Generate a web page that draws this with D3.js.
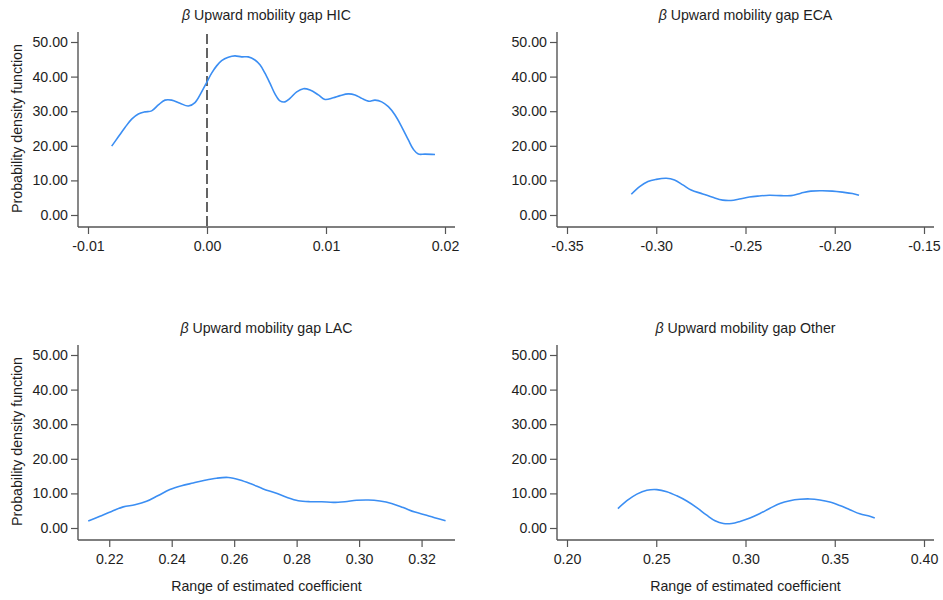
<!DOCTYPE html>
<html>
<head>
<meta charset="utf-8">
<script src="https://cdn.jsdelivr.net/npm/d3@7/dist/d3.min.js"></script>
<style>
  html, body { margin: 0; padding: 0; background: #fff; }
  text { font-family: Arial, "Liberation Sans", sans-serif; }
</style>
</head>
<body>
<svg id="chart" width="943" height="600"></svg>
<script>
// ---------------- data ----------------
const panelTitles = ["Upward mobility gap HIC", "Upward mobility gap ECA", "Upward mobility gap LAC", "Upward mobility gap Other"];
const yTicks = [0, 10, 20, 30, 40, 50];
const hicTicks = [-0.01, 0.00, 0.01, 0.02];
const ecaTicks = [-0.35, -0.30, -0.25, -0.20, -0.15];
const lacTicks = [0.22, 0.24, 0.26, 0.28, 0.30, 0.32];
const otherTicks = [0.20, 0.25, 0.30, 0.35, 0.40];

const hicX = [-0.00801, -0.00745, -0.00689, -0.00633, -0.00577, -0.00521, -0.00465, -0.00409, -0.00353, -0.00297, -0.00227, -0.00157, -0.00101, -0.00045, 0.00000, 0.00039, 0.00081, 0.00123, 0.00179, 0.00235, 0.00291, 0.00347, 0.00403, 0.00445, 0.00487, 0.00529, 0.00571, 0.00613, 0.00655, 0.00697, 0.00754, 0.00810, 0.00866, 0.00936, 0.00992, 0.01061, 0.01118, 0.01187, 0.01244, 0.01300, 0.01356, 0.01412, 0.01468, 0.01524, 0.01580, 0.01636, 0.01692, 0.01734, 0.01776, 0.01832, 0.01916];
const hicY = [19.9, 22.6, 25.3, 27.7, 29.2, 29.8, 30.1, 31.8, 33.2, 33.2, 32.3, 31.5, 32.5, 35.6, 38.5, 41.0, 43.1, 44.6, 45.6, 46.0, 45.7, 45.7, 44.8, 43.4, 41.0, 38.1, 35.0, 33.0, 32.7, 33.7, 35.6, 36.5, 36.1, 34.7, 33.4, 33.9, 34.5, 35.0, 34.7, 33.7, 32.9, 33.2, 32.7, 31.3, 28.9, 25.5, 21.7, 19.0, 17.6, 17.6, 17.5];

const ecaX = [-0.31397, -0.30931, -0.30466, -0.30000, -0.29441, -0.28976, -0.28510, -0.28045, -0.27393, -0.26834, -0.26276, -0.25810, -0.25345, -0.24786, -0.24227, -0.23669, -0.23017, -0.22458, -0.21899, -0.21341, -0.20689, -0.20130, -0.19572, -0.19013, -0.18641];
const ecaY = [6.0, 8.2, 9.7, 10.3, 10.6, 10.1, 8.7, 7.2, 6.1, 5.1, 4.3, 4.2, 4.6, 5.2, 5.5, 5.7, 5.6, 5.6, 6.3, 6.9, 7.0, 6.9, 6.6, 6.2, 5.7];

const lacX = [0.21328, 0.21701, 0.22075, 0.22448, 0.22822, 0.23195, 0.23569, 0.23942, 0.24316, 0.24689, 0.25063, 0.25437, 0.25810, 0.26184, 0.26557, 0.26931, 0.27304, 0.27678, 0.28051, 0.28425, 0.28798, 0.29172, 0.29545, 0.29919, 0.30293, 0.30666, 0.31040, 0.31413, 0.31787, 0.32160, 0.32480, 0.32768];
const lacY = [2.0, 3.4, 4.8, 6.1, 6.7, 7.7, 9.4, 11.1, 12.2, 13.0, 13.8, 14.4, 14.6, 13.9, 12.7, 11.3, 10.2, 8.9, 7.9, 7.6, 7.6, 7.4, 7.6, 8.0, 8.1, 7.8, 7.1, 5.9, 4.6, 3.7, 2.8, 2.1];

const otherX = [0.22852, 0.23355, 0.23914, 0.24473, 0.25033, 0.25592, 0.26151, 0.26710, 0.27269, 0.27828, 0.28294, 0.28760, 0.29226, 0.29692, 0.30252, 0.30811, 0.31370, 0.31929, 0.32488, 0.33048, 0.33607, 0.34166, 0.34725, 0.35284, 0.35843, 0.36402, 0.36961, 0.37241];
const otherY = [5.6, 7.9, 9.8, 10.9, 11.1, 10.5, 9.3, 7.8, 5.9, 3.7, 2.1, 1.3, 1.3, 1.9, 2.9, 4.2, 5.7, 7.1, 7.9, 8.3, 8.4, 8.1, 7.5, 6.5, 5.3, 4.1, 3.4, 2.9];

const xDomains = [[-0.01, 0.02], [-0.35, -0.15], [0.2132, 0.3275], [0.20, 0.40]];
const refLineX = 0;

// ---------------- layout ----------------
const svg = d3.select("#chart");
const locale = d3.formatLocale({decimal: ".", thousands: ",", grouping: [3], currency: ["", ""], minus: "-"});
const fmt = locale.format(".2f");

const base = {axL: 78, axR: 455, plotL: 88, plotR: 445, axT: 32, axB: 227, y0: 215, y50: 42};
const colOff = [0, 479];
const rowOff = [0, 313];
const lineColor = "#3b8ef3";
const axisColor = "#555";
const textColor = "#1e1e1e";
const fs = 14.2;

const panels = [
  {title: panelTitles[0], xs: hicX, ys: hicY, ticks: hicTicks, dom: xDomains[0], col: 0, row: 0, ref: true},
  {title: panelTitles[1], xs: ecaX, ys: ecaY, ticks: ecaTicks, dom: xDomains[1], col: 1, row: 0},
  {title: panelTitles[2], xs: lacX, ys: lacY, ticks: lacTicks, dom: xDomains[2], col: 0, row: 1},
  {title: panelTitles[3], xs: otherX, ys: otherY, ticks: otherTicks, dom: xDomains[3], col: 1, row: 1}
];

panels.forEach(p => {
  const dx = colOff[p.col], dy = rowOff[p.row];
  const g = svg.append("g").attr("transform", `translate(${dx},${dy})`);
  const x = d3.scaleLinear().domain(p.dom).range([base.plotL, base.plotR]);
  const y = d3.scaleLinear().domain([0, 50]).range([base.y0, base.y50]);

  // title
  const t = g.append("text")
    .attr("x", (base.axL + base.axR) / 2)
    .attr("y", 19.5)
    .attr("text-anchor", "middle")
    .attr("font-size", fs)
    .attr("fill", textColor);
  t.append("tspan").attr("font-style", "italic").text("β");
  t.append("tspan").text(" " + p.title);

  // y axis
  const ya = g.append("g").attr("transform", `translate(${base.axL},0)`)
    .call(d3.axisLeft(y).tickValues(yTicks).tickFormat(fmt).tickSize(7).tickPadding(3));
  ya.select(".domain").remove();
  ya.selectAll("line").attr("stroke", axisColor).attr("stroke-width", 1.2);
  ya.selectAll("text").attr("font-size", fs).attr("fill", textColor)
    .attr("font-family", "Arial, 'Liberation Sans', sans-serif");
  g.append("line").attr("x1", base.axL).attr("x2", base.axL).attr("y1", base.axT).attr("y2", base.axB)
    .attr("stroke", axisColor).attr("stroke-width", 1.4);

  // x axis
  const xa = g.append("g").attr("transform", `translate(0,${base.axB})`)
    .call(d3.axisBottom(x).tickValues(p.ticks).tickFormat(fmt).tickSize(7).tickPadding(7));
  xa.select(".domain").remove();
  xa.selectAll("line").attr("stroke", axisColor).attr("stroke-width", 1.2);
  xa.selectAll("text").attr("font-size", fs).attr("fill", textColor)
    .attr("font-family", "Arial, 'Liberation Sans', sans-serif");
  g.append("line").attr("x1", base.axL).attr("x2", base.axR).attr("y1", base.axB).attr("y2", base.axB)
    .attr("stroke", axisColor).attr("stroke-width", 1.4);

  // reference line
  if (p.ref) {
    g.append("line").attr("x1", x(refLineX)).attr("x2", x(refLineX))
      .attr("y1", base.axT + 2).attr("y2", base.axB)
      .attr("stroke", "#111").attr("stroke-width", 1.3).attr("stroke-dasharray", "10,4");
  }

  // density curve
  const pts = p.xs.map((v, i) => [v, p.ys[i]]);
  g.append("path").datum(pts)
    .attr("fill", "none").attr("stroke", lineColor).attr("stroke-width", 1.6)
    .attr("d", d3.line().x(d => x(d[0])).y(d => y(d[1])).curve(d3.curveCatmullRom.alpha(0.5)));

  // axis titles
  if (p.col === 0) {
    g.append("text")
      .attr("transform", `translate(22,${(base.y0 + base.y50) / 2}) rotate(-90)`)
      .attr("text-anchor", "middle").attr("font-size", fs).attr("fill", textColor)
      .text("Probability density function");
  }
  if (p.row === 1) {
    g.append("text")
      .attr("x", (base.axL + base.axR) / 2).attr("y", 591 - dy)
      .attr("text-anchor", "middle").attr("font-size", fs).attr("fill", textColor)
      .text("Range of estimated coefficient");
  }
});
</script>
</body>
</html>
